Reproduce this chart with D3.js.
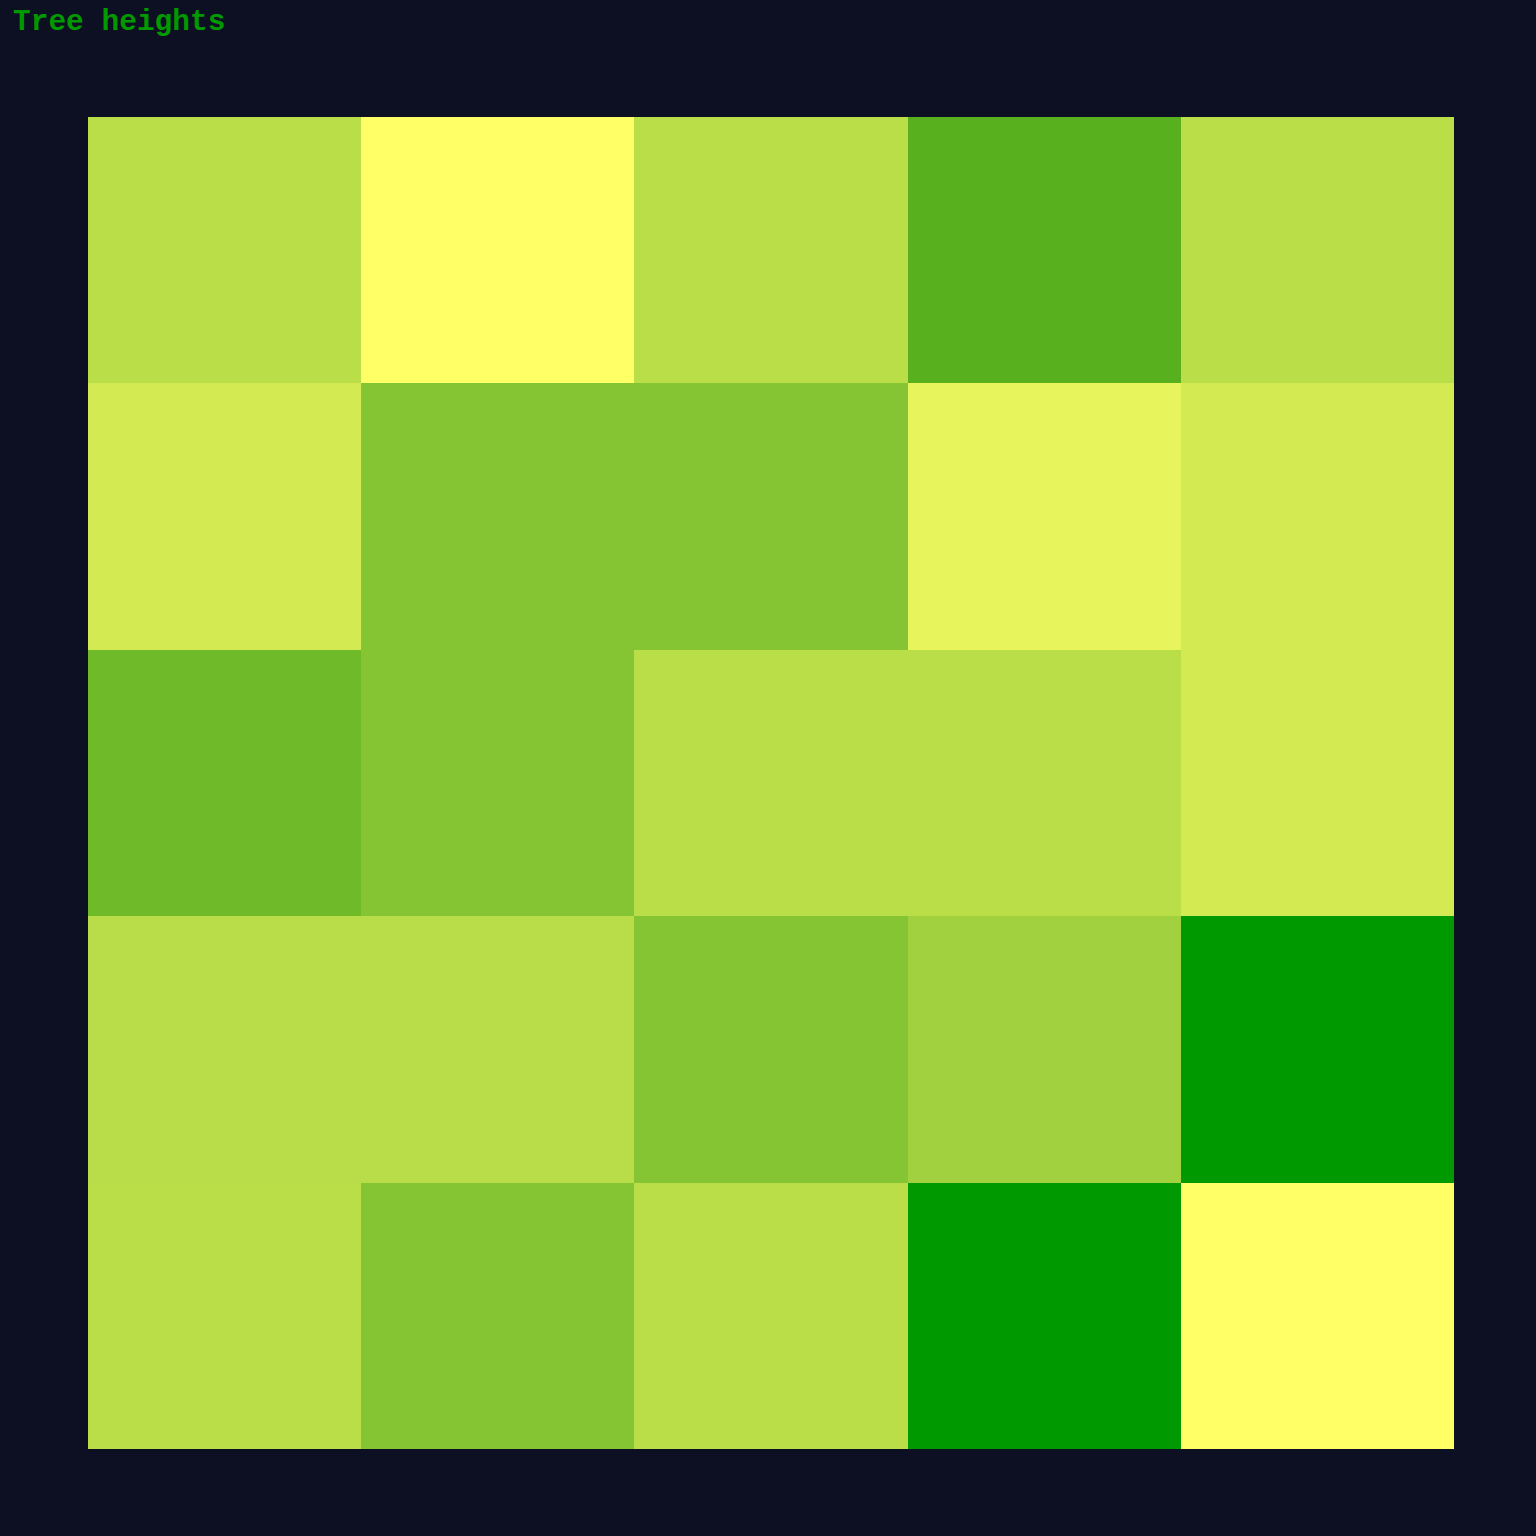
<!DOCTYPE html>
<html>
<head>
<meta charset="utf-8">
<script src="https://cdn.jsdelivr.net/npm/d3@7"></script>
<style>
html,body{margin:0;padding:0;background:#0d0f22;}
svg{display:block;}
</style>
</head>
<body>
<svg id="chart" width="1536" height="1536"></svg>
<script>
const rows = ["r1","r2","r3","r4","r5"];
const cols = ["c1","c2","c3","c4","c5"];
const heights = [
  [16.6, 10.0, 16.6, 25.6, 16.6],
  [14.2, 21.6, 21.6, 12.2, 14.2],
  [23.6, 21.6, 16.6, 16.6, 14.2],
  [16.8, 16.8, 21.6, 19.0, 30.0],
  [16.6, 21.6, 16.6, 30.0, 10.0]
];
const titleText = "Tree heights";

const svg = d3.select("#chart");
const W = 1536, H = 1536;
svg.append("rect").attr("width", W).attr("height", H).attr("fill", "#0d0f22");

const margin = {left: 88, right: 82, top: 117, bottom: 87};
const x = d3.scaleBand().domain(cols).range([margin.left, W - margin.right]).padding(0);
const y = d3.scaleBand().domain(rows).range([margin.top, H - margin.bottom]).padding(0);
const flat = heights.flatMap((r, i) => r.map((v, j) => ({row: rows[i], col: cols[j], v})));
const color = d3.scaleLinear()
  .domain([d3.min(flat, d => d.v), d3.max(flat, d => d.v)])
  .range(["#ffff66", "#009900"])
  .interpolate(d3.interpolateLab);

svg.append("g").selectAll("rect").data(flat).join("rect")
  .attr("x", d => x(d.col))
  .attr("y", d => y(d.row))
  .attr("width", x.bandwidth())
  .attr("height", y.bandwidth())
  .attr("fill", d => color(d.v))
  .attr("shape-rendering", "crispEdges");

svg.append("text")
  .attr("x", 13).attr("y", 30)
  .attr("fill", "#009900")
  .attr("font-family", "'Liberation Mono', 'Courier New', monospace")
  .attr("font-weight", "bold")
  .attr("font-size", 29.5)
  .text(titleText);
</script>
</body>
</html>
